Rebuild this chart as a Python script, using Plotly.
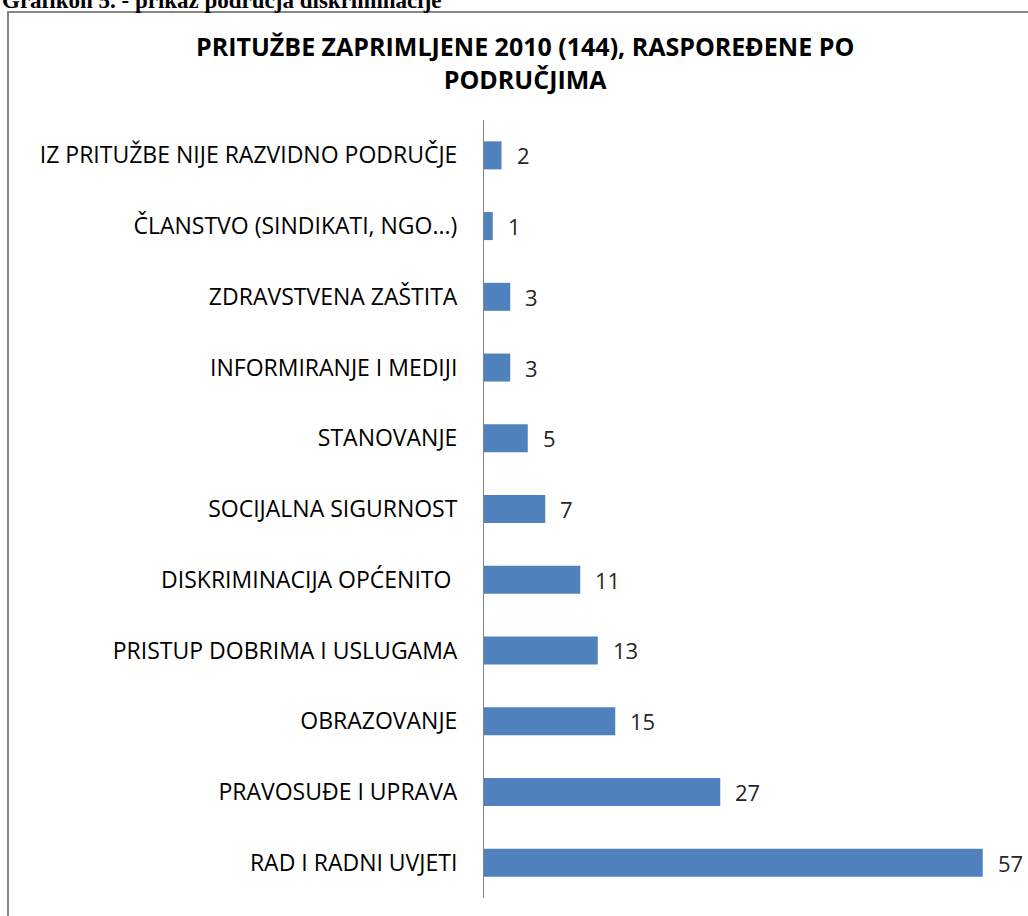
import plotly.graph_objects as go

categories = [
    "RAD I RADNI UVJETI",
    "PRAVOSUĐE I UPRAVA",
    "OBRAZOVANJE",
    "PRISTUP DOBRIMA I USLUGAMA",
    "DISKRIMINACIJA OPĆENITO ",
    "SOCIJALNA SIGURNOST",
    "STANOVANJE",
    "INFORMIRANJE I MEDIJI",
    "ZDRAVSTVENA ZAŠTITA",
    "ČLANSTVO (SINDIKATI, NGO...)",
    "IZ PRITUŽBE NIJE RAZVIDNO PODRUČJE",
]
values = [57, 27, 15, 13, 11, 7, 5, 3, 3, 1, 2]
title_text = "PRITUŽBE ZAPRIMLJENE 2010 (144), RASPOREĐENE PO<br>PODRUČJIMA"
caption_text = "Grafikon 5. - prikaz područja diskriminacije"

W, H = 1028, 916
L, R, T, B = 484, 19, 120, 18
PW = W - L - R
PH = H - T - B

def px_x(px):
    return (px - L) / PW

def px_y(py):
    return (H - B - py) / PH

FONT = "Open Sans"

fig = go.Figure()
fig.add_trace(go.Bar(
    y=categories, x=values, orientation="h",
    marker=dict(color="#4F81BD", line=dict(width=0)),
    hoverinfo="x+y",
))

annotations = []
for c, v in zip(categories, values):
    annotations.append(dict(
        x=v, y=c, xref="x", yref="y", text=str(v), showarrow=False,
        xanchor="left", yanchor="middle", xshift=13,
        font=dict(family=FONT, size=22, color="#262626"),
    ))

annotations.append(dict(
    x=px_x(525), y=px_y(62), xref="paper", yref="paper",
    text="<b>" + title_text.replace("<br>", "</b><br><b>") + "</b>", showarrow=False,
    xanchor="center", yanchor="middle",
    font=dict(family=FONT, size=25, color="#000000"),
    align="center",
))
annotations.append(dict(
    x=px_x(0), y=px_y(15), xref="paper", yref="paper",
    text="<b>" + caption_text + "</b>", showarrow=False,
    xanchor="left", yanchor="bottom",
    font=dict(family="Liberation Serif", size=23, color="#000000"),
))

shapes = [dict(
    type="rect", xref="paper", yref="paper",
    x0=px_x(8), x1=px_x(1040), y0=px_y(930), y1=px_y(12),
    line=dict(color="#878787", width=2), fillcolor="rgba(0,0,0,0)", layer="below",
)]

fig.update_layout(
    width=W, height=H,
    margin=dict(l=L, r=R, t=T, b=B, autoexpand=False),
    paper_bgcolor="white", plot_bgcolor="white",
    showlegend=False,
    bargap=0.604,
    annotations=annotations,
    shapes=shapes,
    xaxis=dict(range=[0, 60], showgrid=False, zeroline=False, showticklabels=False,
               showline=False, ticks="", fixedrange=True),
    yaxis=dict(categoryorder="array", categoryarray=categories,
               showgrid=False, zeroline=False, showline=True,
               linecolor="#868686", linewidth=1, ticks="",
               ticklabelstandoff=21,
               tickfont=dict(family=FONT, size=23, color="#000000")),
)

fig.write_html(
    "out.html",
    config={"displayModeBar": False},
    post_script="document.body.style.margin='0';document.body.style.overflow='hidden';",
)
